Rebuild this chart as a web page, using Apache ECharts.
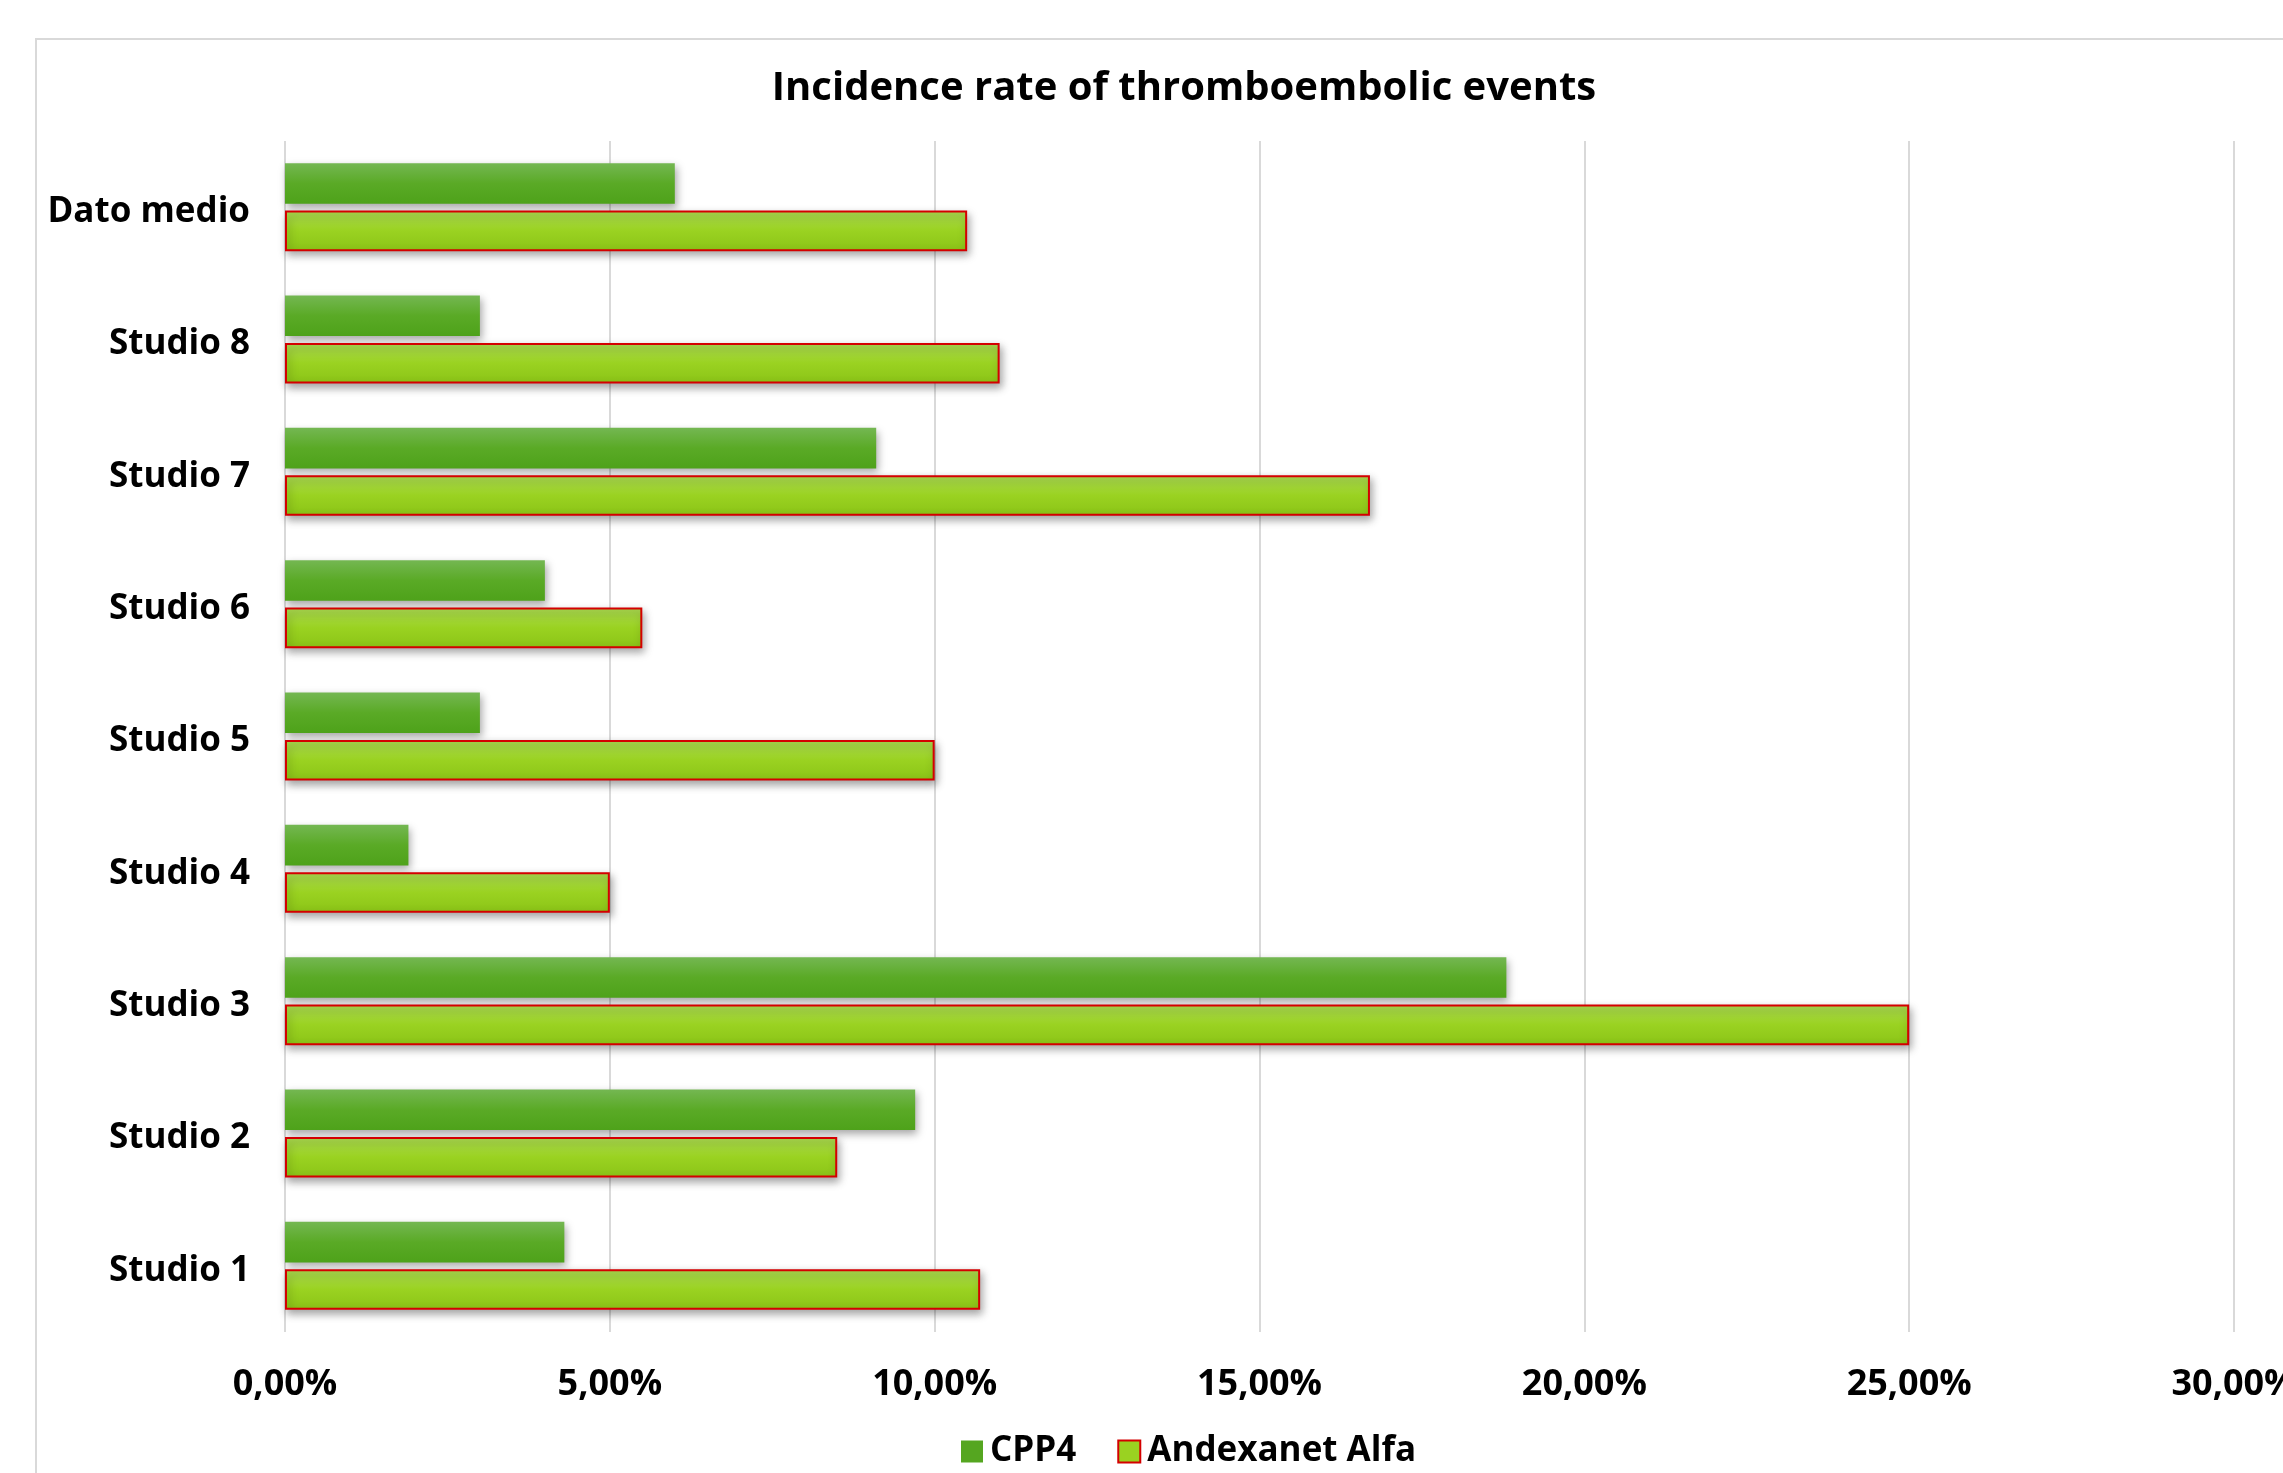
<!DOCTYPE html>
<html>
<head>
<meta charset="utf-8">
<title>Incidence rate of thromboembolic events</title>
<script src="https://cdn.jsdelivr.net/npm/echarts@6/dist/echarts.min.js"></script>
<style>
  html, body { margin: 0; padding: 0; background: #ffffff; }
  #chart { width: 2283px; height: 1473px; }
</style>
</head>
<body>
<div id="chart"></div>
<script>
// Categories listed bottom-to-top (category y axis grows upward)
const categories = ['Studio 1', 'Studio 2', 'Studio 3', 'Studio 4', 'Studio 5', 'Studio 6', 'Studio 7', 'Studio 8', 'Dato medio'];

// Incidence rates, in percent
const cpp4Values       = [4.3, 9.7, 18.8, 1.9, 3.0, 4.0, 9.1, 3.0, 6.0];
const andexanetValues  = [10.7, 8.5, 25.0, 5.0, 10.0, 5.5, 16.7, 11.0, 10.5];

const seriesNames = ['CPP4', 'Andexanet Alfa'];
const titleText = 'Incidence rate of thromboembolic events';

// Value axis range (percent)
const axisMin = 0;
const axisMax = 30;
const axisStep = 5;

const FONT = '"Open Sans", "Noto Sans", sans-serif';

function pctLabel(v) {
  return v.toFixed(2).replace('.', ',') + '%';
}

const chart = echarts.init(document.getElementById('chart'), null, { renderer: 'canvas' });

const cppFill = new echarts.graphic.LinearGradient(0, 0, 0, 1, [
  { offset: 0, color: '#74b752' },
  { offset: 0.5, color: '#5aaa26' },
  { offset: 1, color: '#4ea21a' }
]);
const andFill = new echarts.graphic.LinearGradient(0, 0, 0, 1, [
  { offset: 0, color: '#abda52' },
  { offset: 0.5, color: '#9ad221' },
  { offset: 1, color: '#8bc417' }
]);

chart.setOption({
  backgroundColor: '#ffffff',
  animation: false,
  graphic: [{
    type: 'rect',
    shape: { x: 36, y: 39, width: 2400, height: 1600 },
    style: { fill: 'none', stroke: '#d9d9d9', lineWidth: 2 },
    silent: true,
    z: -1
  }],
  title: {
    text: titleText,
    left: 1179,
    top: 64,
    textAlign: 'center',
    textStyle: { fontFamily: FONT, fontWeight: 'bold', fontSize: 40, color: '#000000' }
  },
  legend: {
    data: [
      { name: seriesNames[0], itemStyle: { color: '#55a620', borderWidth: 0 } },
      { name: seriesNames[1], itemStyle: { color: '#9ad221', borderColor: '#d40000', borderWidth: 2 } }
    ],
    left: 956,
    top: 1429,
    itemWidth: 22,
    itemHeight: 22,
    itemGap: 41,
    icon: 'rect',
    textStyle: { fontFamily: FONT, fontWeight: 'bold', fontSize: 35, color: '#000000', padding: [0, 0, 0, 2] }
  },
  grid: {
    left: 285,
    right: 49,
    top: 141,
    bottom: 141,
    containLabel: false,
    outerBoundsMode: 'none'
  },
  xAxis: {
    type: 'value',
    min: axisMin,
    max: axisMax,
    interval: axisStep,
    axisLine: { show: false },
    axisTick: { show: false },
    splitLine: { show: true, lineStyle: { color: '#d9d9d9', width: 2 } },
    axisLabel: {
      formatter: pctLabel,
      margin: 35,
      fontFamily: FONT,
      fontWeight: 'bold',
      fontSize: 36,
      color: '#000000'
    }
  },
  yAxis: {
    type: 'category',
    data: categories,
    axisLine: { show: false },
    axisTick: { show: false },
    splitLine: { show: false },
    axisLabel: {
      margin: 35,
      formatter: function (name) { return '{c|' + name + '}'; },
      rich: {
        c: {
          fontFamily: FONT,
          fontWeight: 'bold',
          fontSize: 35,
          color: '#000000',
          padding: [10, 0, 0, 0]
        }
      }
    }
  },
  series: [
    {
      name: seriesNames[0],
      type: 'bar',
      data: cpp4Values,
      barGap: '17%',
      barCategoryGap: '33.5%',
      itemStyle: {
        color: cppFill,
        shadowColor: 'rgba(0,0,0,0.35)',
        shadowBlur: 8,
        shadowOffsetX: 2,
        shadowOffsetY: 4
      }
    },
    {
      name: seriesNames[1],
      type: 'bar',
      data: andexanetValues,
      barGap: '17%',
      barCategoryGap: '33.5%',
      itemStyle: {
        color: andFill,
        borderColor: '#d40000',
        borderWidth: 2,
        shadowColor: 'rgba(0,0,0,0.35)',
        shadowBlur: 8,
        shadowOffsetX: 2,
        shadowOffsetY: 4
      }
    }
  ]
});
</script>
</body>
</html>
